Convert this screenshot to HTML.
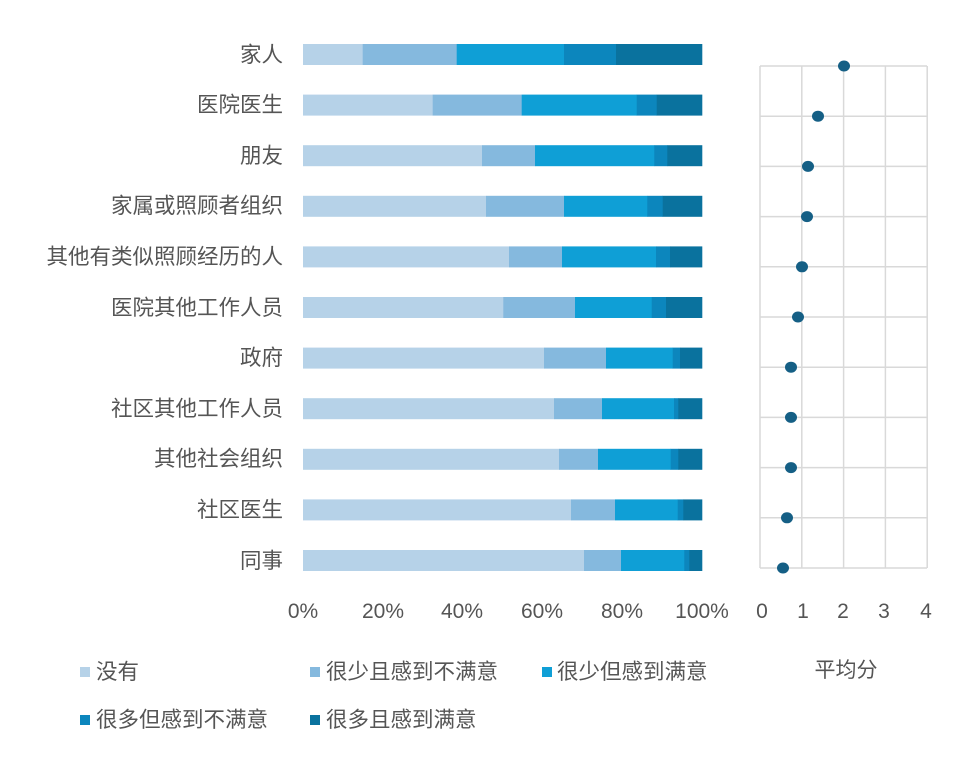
<!DOCTYPE html>
<html><head><meta charset="utf-8"><style>
html,body{margin:0;padding:0;background:#fff}
svg text{font-family:"Liberation Sans","Noto Sans CJK SC",sans-serif;fill:#555}
</style></head><body>
<svg width="978" height="770" xmlns="http://www.w3.org/2000/svg">
<g font-size="21.5" text-anchor="end">
<text x="283" y="62">家人</text>
<text x="283" y="112">医院医生</text>
<text x="283" y="163">朋友</text>
<text x="283" y="213">家属或照顾者组织</text>
<text x="283" y="264">其他有类似照顾经历的人</text>
<text x="283" y="315">医院其他工作人员</text>
<text x="283" y="365">政府</text>
<text x="283" y="416">社区其他工作人员</text>
<text x="283" y="466">其他社会组织</text>
<text x="283" y="517">社区医生</text>
<text x="283" y="568">同事</text>
</g>
<g id="bars"></g>
<g font-size="21" text-anchor="middle">
<text x="303" y="618">0%</text><text x="383" y="618">20%</text><text x="462" y="618">40%</text>
<text x="542" y="618">60%</text><text x="622" y="618">80%</text><text x="702" y="618">100%</text>
</g>
<g stroke="#d9d9d9" stroke-width="1.5" fill="none" id="grid"></g>
<g fill="#155f85" id="dots"></g>
<g font-size="21" text-anchor="middle">
<text x="762" y="618">0</text><text x="803" y="618">1</text><text x="843" y="618">2</text><text x="884" y="618">3</text><text x="926" y="618">4</text>
<text x="846" y="677">平均分</text>
</g>
<g font-size="21.5">
<rect x="80" y="667" width="10" height="10" fill="#b6d2e8"/><text x="96" y="679">没有</text>
<rect x="310" y="667" width="10" height="10" fill="#85b9de"/><text x="326" y="679">很少且感到不满意</text>
<rect x="542" y="667" width="10" height="10" fill="#0f9fd6"/><text x="557" y="679">很少但感到满意</text>
<rect x="80" y="715" width="10" height="10" fill="#0c86bd"/><text x="96" y="727">很多但感到不满意</text>
<rect x="310" y="715" width="10" height="10" fill="#0a729e"/><text x="326" y="727">很多且感到满意</text>
</g>
<script>
var ns="http://www.w3.org/2000/svg";
var cols=["#b6d2e8","#85b9de","#0f9fd6","#0c86bd","#0a729e"];
var b=[[362.7,456.7,564,616],[432.7,521.7,636.7,656.7],[482,535,654.3,667.3],[486,564,647.3,662.7],[509,562,656,670],[503.3,575,651.7,666],[544,606,672.7,680],[554,602,674,678.3],[559,598,670.7,678.3],[571,615,677.7,683.3],[584,621,684.3,689.3]];
var g=document.getElementById("bars");
for(var i=0;i<11;i++){var y=44+i*50.6;var xs=[303].concat(b[i]).concat([702]);
for(var j=0;j<5;j++){var r=document.createElementNS(ns,"rect");r.setAttribute("x",xs[j]);r.setAttribute("y",y);r.setAttribute("width",xs[j+1]-xs[j]+0.3);r.setAttribute("height",21);r.setAttribute("fill",cols[j]);g.appendChild(r);}}
var gr=document.getElementById("grid"),d="";
for(var k=0;k<5;k++){var x=760+k*41.8;d+="M"+x+" 66V568";}
for(var k=0;k<11;k++){var y=66+k*50.2;d+="M760 "+y+"H927";}
var p=document.createElementNS(ns,"path");p.setAttribute("d",d);gr.appendChild(p);
var dx=[844,818,808,807,802,798,791,791,791,787,783],dg=document.getElementById("dots");
for(var k=0;k<11;k++){var c=document.createElementNS(ns,"ellipse");c.setAttribute("cx",dx[k]);c.setAttribute("cy",66+k*50.2);c.setAttribute("rx",6);c.setAttribute("ry",5.5);dg.appendChild(c);}
</script>
</svg>
</body></html>
